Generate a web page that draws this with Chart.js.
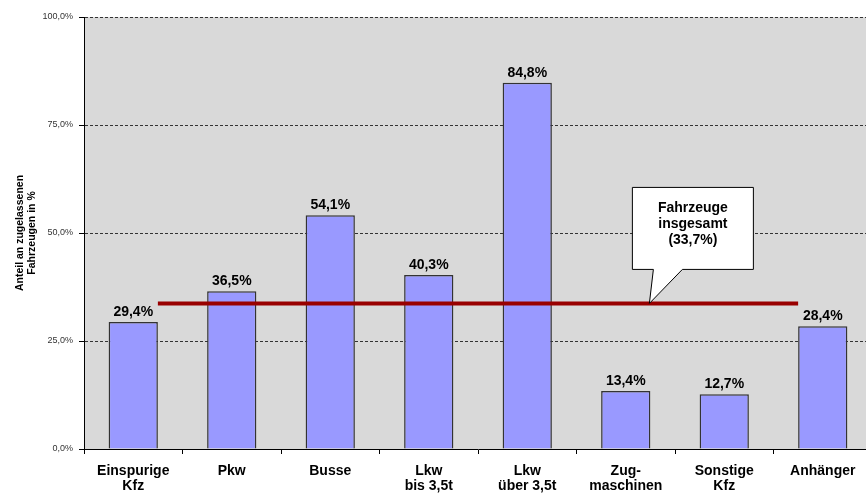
<!DOCTYPE html>
<html>
<head>
<meta charset="utf-8">
<script src="https://cdn.jsdelivr.net/npm/chart.js@4.4.1/dist/chart.umd.min.js"></script>
<style>
html, body { margin: 0; padding: 0; overflow: hidden; background: #fff; }
#wrap { width: 880px; height: 495px; }
</style>
</head>
<body>
<div id="wrap"><canvas id="c" width="880" height="495"></canvas></div>
<script>
// ---- data ----
const categories = [
  ['Einspurige', 'Kfz'],
  'Pkw',
  'Busse',
  ['Lkw', 'bis 3,5t'],
  ['Lkw', 'über 3,5t'],
  ['Zug-', 'maschinen'],
  ['Sonstige', 'Kfz'],
  'Anhänger'
];
const shares = [29.4, 36.5, 54.1, 40.3, 84.8, 13.4, 12.7, 28.4];
const totalShare = 33.7;
const totalText = ['Fahrzeuge', 'insgesamt'];
const yTicks = [0, 25, 50, 75, 100];
const yTitle = ['Anteil an zugelassenen', 'Fahrzeugen in %'];

const FONT = "'Liberation Sans', Arial, sans-serif";
const fmt = v => v.toFixed(1).replace('.', ',') + '%';

const plotBg = {
  id: 'plotBg',
  beforeDraw(chart) {
    const { ctx, chartArea: a } = chart;
    ctx.save();
    ctx.fillStyle = '#D9D9D9';
    ctx.fillRect(a.left, a.top, a.right - a.left, a.bottom - a.top);
    ctx.restore();
  }
};

const barLabels = {
  id: 'barLabels',
  afterDatasetsDraw(chart) {
    const { ctx } = chart;
    const meta = chart.getDatasetMeta(1);
    ctx.save();
    ctx.font = 'bold 14px ' + FONT;
    ctx.fillStyle = '#000';
    ctx.textAlign = 'center';
    ctx.textBaseline = 'alphabetic';
    meta.data.forEach((el, i) => {
      ctx.fillText(fmt(shares[i]), el.x, el.y - 6);
    });
    ctx.restore();
  }
};

const callout = {
  id: 'callout',
  afterDraw(chart) {
    const { ctx } = chart;
    const tx = chart.scales.x2.getPixelForValue(5.24);
    const ty = chart.scales.y.getPixelForValue(totalShare);
    const L = tx - 17, R = tx + 104, T = ty - 116, B = ty - 34;
    ctx.save();
    ctx.beginPath();
    ctx.moveTo(L, T);
    ctx.lineTo(R, T);
    ctx.lineTo(R, B);
    ctx.lineTo(tx + 33, B);
    ctx.lineTo(tx, ty);
    ctx.lineTo(tx + 4, B);
    ctx.lineTo(L, B);
    ctx.closePath();
    ctx.fillStyle = '#fff';
    ctx.fill();
    ctx.strokeStyle = '#000';
    ctx.lineWidth = 1;
    ctx.stroke();
    ctx.font = 'bold 14px ' + FONT;
    ctx.fillStyle = '#000';
    ctx.textAlign = 'center';
    ctx.textBaseline = 'middle';
    const lines = totalText.concat(['(' + fmt(totalShare) + ')']);
    const cx = (L + R) / 2;
    lines.forEach((s, i) => ctx.fillText(s, cx, T + 21 + i * 16));
    ctx.restore();
  }
};

new Chart(document.getElementById('c'), {
  data: {
    labels: categories,
    datasets: [
      {
        type: 'line',
        data: [{ x: 0.25, y: totalShare }, { x: categories.length - 1.25, y: totalShare }],
        xAxisID: 'x2',
        borderColor: '#990000',
        borderWidth: 4,
        pointRadius: 0,
        fill: false,
        order: 0
      },
      {
        type: 'bar',
        data: shares,
        xAxisID: 'x',
        backgroundColor: '#9999FF',
        borderColor: '#333333',
        borderWidth: 1.5,
        barPercentage: 0.5,
        categoryPercentage: 1.0,
        grouped: false,
        order: 1
      }
    ]
  },
  options: {
    responsive: false,
    animation: false,
    layout: { padding: { top: 17, right: 8, left: 0, bottom: 0 } },
    plugins: { legend: { display: false }, tooltip: { enabled: false } },
    scales: {
      x: {
        type: 'category',
        offset: true,
        grid: { display: true, drawOnChartArea: false, drawTicks: true, tickLength: 5, color: '#000', offset: true },
        border: { display: true, color: '#000', width: 1 },
        ticks: { font: { family: FONT, size: 14, weight: 'bold', lineHeight: 1.07 }, color: '#000', padding: 10, maxRotation: 0, autoSkip: false },
        afterFit(s) { s.height = 46; }
      },
      x2: {
        type: 'linear',
        display: false,
        min: -0.5,
        max: categories.length - 0.5
      },
      y: {
        min: 0,
        max: 100,
        afterBuildTicks(s) { s.ticks = yTicks.map(v => ({ value: v })); },
        ticks: { callback: v => fmt(v), font: { family: FONT, size: 9 }, color: '#333', padding: 6 },
        grid: { color: '#333', tickColor: '#000', tickLength: 5, tickBorderDash: [] },
        border: { display: true, color: '#000', width: 1, dash: [3, 2] },
        title: { display: true, text: yTitle, font: { family: FONT, size: 10.5, weight: 'bold', lineHeight: 1.15 }, color: '#000', padding: { top: 14, bottom: 0 } },
        afterFit(s) { s.width = 84; }
      }
    }
  },
  plugins: [plotBg, barLabels, callout]
});
</script>
</body>
</html>
